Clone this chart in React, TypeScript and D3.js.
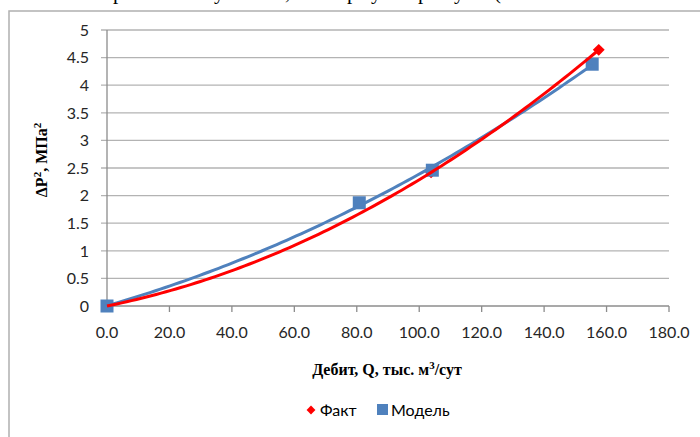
import * as d3 from "d3";

// Факт (measured)
const factQ = [0, 103.8, 157.5];
const factDP = [0, 2.42, 4.64];

// Модель (model)
const modelQ = [0, 80.8, 104.2, 155.4];
const modelDP = [0, 1.87, 2.46, 4.38];

const xTicks = [0, 20, 40, 60, 80, 100, 120, 140, 160, 180];
const yTicks = [0, 0.5, 1, 1.5, 2, 2.5, 3, 3.5, 4, 4.5, 5];

// descenders of the document line above the chart
const topGlyphs = [
  { ch: "р", x: 113 },
  { ch: "у", x: 214 },
  { ch: ",", x: 285 },
  { ch: "р", x: 347 },
  { ch: "у", x: 371 },
  { ch: "р", x: 418 },
  { ch: "у", x: 454 },
  { ch: "(", x: 494 },
];

// quadratic least-squares trend, like Excel's polynomial (order 2) trendline
function polyFit(xs: number[], ys: number[]) {
  const s = [0, 0, 0, 0, 0];
  const t = [0, 0, 0];
  xs.forEach((x, i) => {
    for (let k = 0; k < 5; k++) s[k] += Math.pow(x, k);
    for (let k = 0; k < 3; k++) t[k] += Math.pow(x, k) * ys[i];
  });
  const A = [
    [s[0], s[1], s[2], t[0]],
    [s[1], s[2], s[3], t[1]],
    [s[2], s[3], s[4], t[2]],
  ];
  for (let i = 0; i < 3; i++) {
    for (let j = i + 1; j < 3; j++) {
      const f = A[j][i] / A[i][i];
      for (let k = i; k < 4; k++) A[j][k] -= f * A[i][k];
    }
  }
  const c = [0, 0, 0];
  for (let i = 2; i >= 0; i--) {
    let v = A[i][3];
    for (let k = i + 1; k < 3; k++) v -= A[i][k] * c[k];
    c[i] = v / A[i][i];
  }
  return (x: number) => c[0] + c[1] * x + c[2] * x * x;
}

const sans = "Lato, 'Open Sans', sans-serif";
const serif = "'Liberation Serif', 'Times New Roman', serif";

export default function App() {
  const x = d3.scaleLinear().domain([0, 180]).range([107, 669]);
  const y = d3.scaleLinear().domain([0, 5]).range([306, 30]);

  const line = d3
    .line<number[]>()
    .x((d) => x(d[0]))
    .y((d) => y(d[1]));

  const trend = (qs: number[], ps: number[]) => {
    const f = polyFit(qs, ps);
    const max = d3.max(qs) as number;
    return line(d3.range(0, 101).map((i) => [(max * i) / 100, f((max * i) / 100)]));
  };

  const diamond = d3.symbol(d3.symbolDiamond2, 90);

  return (
    <svg
      width={700}
      height={437}
      style={{ position: "absolute", left: 0, top: 0, background: "#fff" }}
    >
      {topGlyphs.map((g, i) => (
        <text key={i} x={g.x} y={-1.5} fontFamily={serif} fontSize={21} fill="#000">
          {g.ch}
        </text>
      ))}

      {/* chart frame */}
      <rect x={9} y={11} width={720} height={460} fill="none" stroke="#b0b0b0" strokeWidth={1.5} />

      {/* gridlines */}
      {yTicks.slice(1).map((t) => (
        <line key={t} x1={101} x2={669} y1={y(t)} y2={y(t)} stroke="#b3b3b3" strokeWidth={1.3} />
      ))}
      <line x1={101} x2={107} y1={y(0)} y2={y(0)} stroke="#8c8c8c" strokeWidth={1.3} />

      {/* axes */}
      <line x1={107} x2={107} y1={y(5)} y2={y(0)} stroke="#8c8c8c" strokeWidth={1.3} />
      <line x1={107} x2={669} y1={y(0)} y2={y(0)} stroke="#8c8c8c" strokeWidth={1.3} />
      {xTicks.map((t) => (
        <line key={t} x1={x(t)} x2={x(t)} y1={y(0)} y2={y(0) + 6} stroke="#8c8c8c" strokeWidth={1.3} />
      ))}

      {yTicks.map((t) => (
        <text key={t} x={89} y={y(t)} dy="0.36em" textAnchor="end" fontFamily={sans} fontSize={16} fill="#262626">
          {t}
        </text>
      ))}
      {xTicks.map((t) => (
        <text key={t} x={x(t)} y={338} textAnchor="middle" fontFamily={sans} fontSize={16} fill="#262626">
          {t.toFixed(1)}
        </text>
      ))}

      {/* axis titles */}
      <text x={387} y={375} textAnchor="middle" fontFamily={serif} fontWeight="bold" fontSize={16} fill="#000">
        Дебит, Q, тыс. м<tspan dy={-6} fontSize={11}>3</tspan>
        <tspan dy={6}>/сут</tspan>
      </text>
      <text
        transform="translate(47,160) rotate(-90)"
        textAnchor="middle"
        fontFamily={serif}
        fontWeight="bold"
        fontSize={16}
        fill="#000"
      >
        ΔP<tspan dy={-6} fontSize={11}>2</tspan>
        <tspan dy={6}>, МПа</tspan>
        <tspan dy={-6} fontSize={11}>2</tspan>
      </text>

      {/* markers: Факт under Модель */}
      {factQ.map((q, i) => (
        <path key={i} d={diamond() as string} transform={`translate(${x(q)},${y(factDP[i])})`} fill="#ff0000" />
      ))}
      {modelQ.map((q, i) => (
        <rect key={i} x={x(q) - 6.5} y={y(modelDP[i]) - 6.5} width={13} height={13} fill="#4f81bd" />
      ))}

      {/* trendlines */}
      <path d={trend(modelQ, modelDP) as string} fill="none" stroke="#4f81bd" strokeWidth={3} />
      <path d={trend(factQ, factDP) as string} fill="none" stroke="#ff0000" strokeWidth={3} />

      {/* legend */}
      <path d={d3.symbol(d3.symbolDiamond2, 50)() as string} transform="translate(311,410)" fill="#ff0000" />
      <text x={320} y={415.5} fontFamily={sans} fontSize={16} fill="#000">
        Факт
      </text>
      <rect x={377} y={404} width={11} height={11} fill="#4f81bd" />
      <text x={391} y={415.5} fontFamily={sans} fontSize={16} fill="#000">
        Модель
      </text>
    </svg>
  );
}
